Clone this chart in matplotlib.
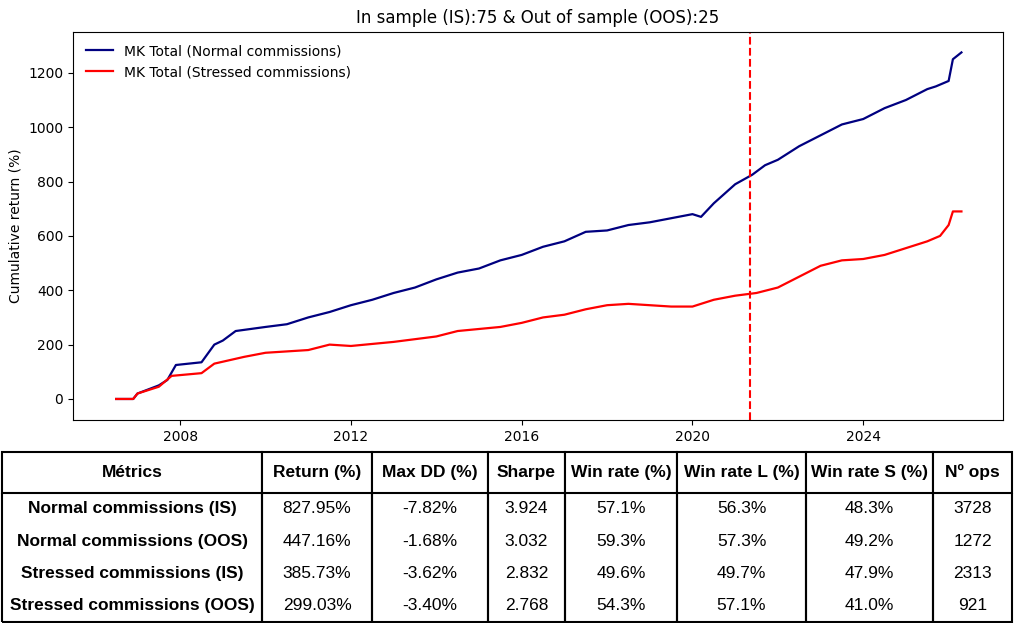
import matplotlib.pyplot as plt

# curve values (decimal year, cumulative return %)
normal_t = [2006.5, 2006.9, 2007.0, 2007.5, 2007.7, 2007.9, 2008.5, 2008.8, 2009.0, 2009.3, 2010.0, 2010.5,
            2011.0, 2011.5, 2012.0, 2012.5, 2013.0, 2013.5, 2014.0, 2014.5, 2015.0, 2015.5, 2016.0, 2016.5,
            2017.0, 2017.5, 2018.0, 2018.5, 2019.0, 2019.5, 2020.0, 2020.2, 2020.5, 2021.0, 2021.4, 2021.7,
            2022.0, 2022.5, 2023.0, 2023.5, 2024.0, 2024.5, 2025.0, 2025.5, 2025.7, 2026.0, 2026.1, 2026.3]
normal_v = [0, 0, 20, 50, 70, 125, 135, 200, 215, 250, 265, 275,
            300, 320, 345, 365, 390, 410, 440, 465, 480, 510, 530, 560,
            580, 615, 620, 640, 650, 665, 680, 670, 720, 790, 825, 860,
            880, 930, 970, 1010, 1030, 1070, 1100, 1140, 1150, 1170, 1250, 1275]

stressed_t = [2006.5, 2006.9, 2007.0, 2007.5, 2007.8, 2008.5, 2008.8, 2009.5, 2010.0, 2011.0, 2011.5, 2012.0,
              2013.0, 2014.0, 2014.5, 2015.5, 2016.0, 2016.5, 2017.0, 2017.5, 2018.0, 2018.5, 2019.0, 2019.5,
              2020.0, 2020.5, 2021.0, 2021.5, 2022.0, 2022.5, 2023.0, 2023.5, 2024.0, 2024.5, 2025.0, 2025.5,
              2025.8, 2026.0, 2026.1, 2026.3]
stressed_v = [0, 0, 20, 45, 85, 95, 130, 155, 170, 180, 200, 195,
              210, 230, 250, 265, 280, 300, 310, 330, 345, 350, 345, 340,
              340, 365, 380, 390, 410, 450, 490, 510, 515, 530, 555, 580,
              600, 640, 690, 690]

split_year = 2021.35

col_labels = ['Métrics', 'Return (%)', 'Max DD (%)', 'Sharpe', 'Win rate (%)',
              'Win rate L (%)', 'Win rate S (%)', 'Nº ops']
row_labels = ['Normal commissions (IS)', 'Normal commissions (OOS)',
              'Stressed commissions (IS)', 'Stressed commissions (OOS)']
returns = ['827.95%', '447.16%', '385.73%', '299.03%']
max_dd = ['-7.82%', '-1.68%', '-3.62%', '-3.40%']
sharpe = ['3.924', '3.032', '2.832', '2.768']
win_rate = ['57.1%', '59.3%', '49.6%', '54.3%']
win_l = ['56.3%', '57.3%', '49.7%', '57.1%']
win_s = ['48.3%', '49.2%', '47.9%', '41.0%']
n_ops = ['3728', '1272', '2313', '921']

fig = plt.figure(figsize=(10.14, 6.23), dpi=100)
ax = fig.add_axes([0.072, 0.326, 0.917, 0.623])
ax.plot(normal_t, normal_v, color='navy', lw=1.6, label='MK Total (Normal commissions)')
ax.plot(stressed_t, stressed_v, color='red', lw=1.6, label='MK Total (Stressed commissions)')
ax.axvline(split_year, color='red', ls='--', lw=1.5)
ax.set_xlim(2005.49, 2027.27)
ax.set_ylim(-77, 1351)
ax.set_xticks([2008, 2012, 2016, 2020, 2024])
ax.set_ylabel('Cumulative return (%)')
ax.set_title('In sample (IS):75 & Out of sample (OOS):25')
ax.legend(loc='upper left', frameon=False)

tax = fig.add_axes([0.002, 0.002, 0.996, 0.272])
tax.axis('off')
rows = [[row_labels[i], returns[i], max_dd[i], sharpe[i], win_rate[i], win_l[i], win_s[i], n_ops[i]]
        for i in range(4)]
widths = [260, 110, 116, 77, 112, 129, 127, 79]
tot = sum(widths)
tbl = tax.table(cellText=rows, colLabels=col_labels, bbox=[0, 0, 1, 1],
                colWidths=[w / tot for w in widths], cellLoc='center')
tbl.auto_set_font_size(False)
# header ~40px, data rows ~32px
heights = [40, 32, 32, 32, 32]
htot = sum(heights)
for (r, c), cell in tbl.get_celld().items():
    cell.set_linewidth(1.5)
    cell.set_height(heights[r] / htot)
    cell.get_text().set_fontsize(12.5)
    cell.get_text().set_fontfamily('Liberation Sans')
    if r == 0 or c == 0:
        cell.get_text().set_fontweight('bold')
    if r > 0:
        cell.visible_edges = 'LR' if r < 4 else 'LRB'

fig.savefig('out.png', dpi=100)
